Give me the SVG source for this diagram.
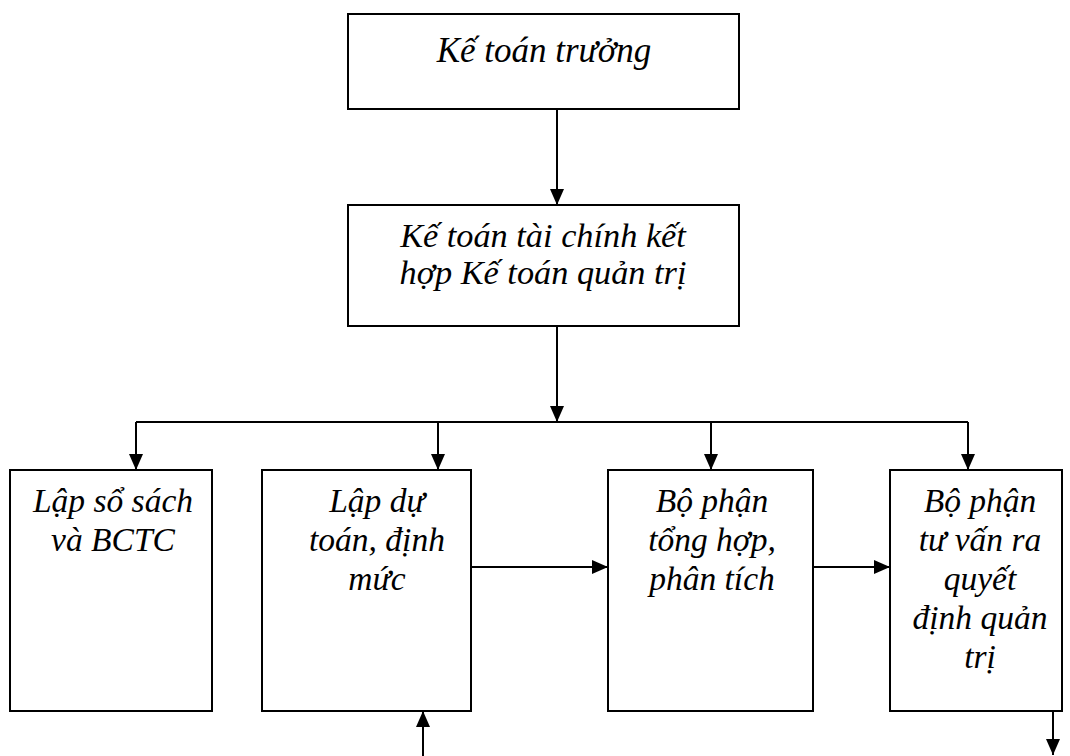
<svg xmlns="http://www.w3.org/2000/svg" width="1070" height="756" viewBox="0 0 1070 756">
  <style>
    .box { fill: #fff; stroke: #000; stroke-width: 2; }
    .lbl { font-family: "Liberation Serif", "Times New Roman", serif; font-style: italic; font-size: 33.5px; fill: #000; text-anchor: middle; }
    .big { font-size: 35px; }
    .mid { font-size: 34.3px; }
    .wire { fill: none; stroke: #000; stroke-width: 2; }
    .arr { marker-end: url(#head); }
  </style>
  <defs>
    <marker id="head" viewBox="0 0 16 14" markerWidth="16" markerHeight="14" refX="16" refY="7" orient="auto" markerUnits="userSpaceOnUse">
      <path d="M0,0 L16,7 L0,14 z" fill="#000"/>
    </marker>
  </defs>

  <rect width="1070" height="756" fill="#fff"/>

  <!-- connectors -->
  <g id="connectors">
    <path class="wire arr" d="M557,109 L557,205"/>
    <path class="wire arr" d="M557,326 L557,422"/>
    <path class="wire" d="M136,422 L968,422"/>
    <path class="wire arr" d="M136,422 L136,470"/>
    <path class="wire arr" d="M438,422 L438,470"/>
    <path class="wire arr" d="M711,422 L711,470"/>
    <path class="wire arr" d="M968,422 L968,470"/>
    <path class="wire arr" d="M463,567 L608,567"/>
    <path class="wire arr" d="M813,567 L890,567"/>
    <path class="wire" d="M111,704 L111,711"/>
    <path class="wire arr" d="M423,756 L423,711"/>
    <path class="wire arr" d="M1053,711 L1053,755"/>
  </g>

  <g id="ke-toan-truong">
    <rect class="box" x="348" y="14" width="391" height="95"/>
    <text class="lbl big" x="544" y="62">Kế toán trưởng</text>
  </g>

  <g id="ke-toan-tai-chinh">
    <rect class="box" x="348" y="205" width="391" height="121"/>
    <text class="lbl mid" x="543" y="247">Kế toán tài chính kết</text>
    <text class="lbl mid" x="543" y="284">hợp Kế toán quản trị</text>
  </g>

  <g id="lap-so-sach">
    <rect class="box" x="10" y="470" width="202" height="241"/>
    <text class="lbl" x="113" y="512">Lập sổ sách</text>
    <text class="lbl" x="113" y="551">và BCTC</text>
  </g>

  <g id="lap-du-toan">
    <rect class="box" x="262" y="470" width="209" height="241"/>
    <text class="lbl" x="377" y="512">Lập dự</text>
    <text class="lbl" x="377" y="551">toán, định</text>
    <text class="lbl" x="377" y="590">mức</text>
  </g>

  <g id="tong-hop">
    <rect class="box" x="608" y="470" width="205" height="241"/>
    <text class="lbl" x="712" y="512">Bộ phận</text>
    <text class="lbl" x="712" y="551">tổng hợp,</text>
    <text class="lbl" x="712" y="590">phân tích</text>
  </g>

  <g id="tu-van">
    <rect class="box" x="890" y="470" width="172" height="241"/>
    <text class="lbl" x="980" y="512">Bộ phận</text>
    <text class="lbl" x="980" y="551">tư vấn ra</text>
    <text class="lbl" x="980" y="590">quyết</text>
    <text class="lbl" x="980" y="629">định quản</text>
    <text class="lbl" x="980" y="668">trị</text>
  </g>
</svg>
